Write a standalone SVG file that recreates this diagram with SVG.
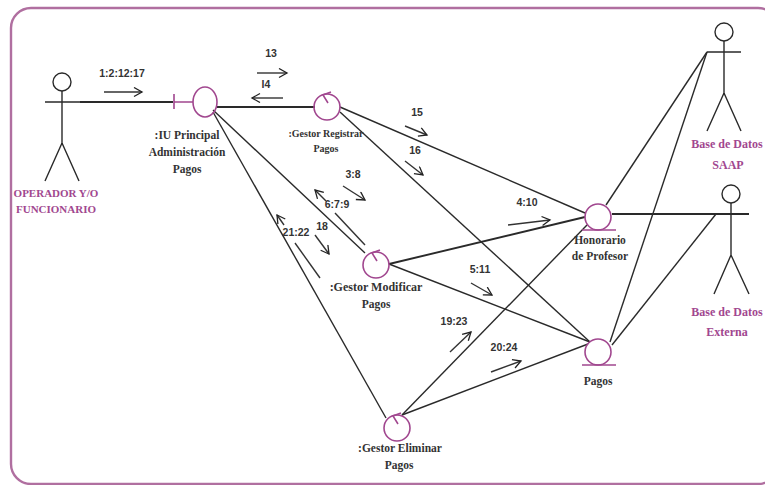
<svg xmlns="http://www.w3.org/2000/svg" width="765" height="485" viewBox="0 0 765 485">
<defs>
<marker id="open" markerWidth="12" markerHeight="12" refX="9" refY="5" orient="auto" markerUnits="userSpaceOnUse"><path d="M1 0.5 L9 5 L1 9.5" fill="none" stroke="#222" stroke-width="1.3"/></marker>
</defs>
<style>
.frame{fill:none;stroke:#b06fa0;stroke-width:2.4}
.c{fill:none;stroke:#2a2a2a;stroke-width:1.4}
.t{stroke-width:1.9}
.m{fill:none;stroke:#333;stroke-width:1.4;marker-end:url(#open)}
.b{fill:none;stroke:#333;stroke-width:1.4}
.actor{fill:none;stroke:#2a2a2a;stroke-width:1.4}
.p{fill:none;stroke:#a1478f;stroke-width:1.6}
text{font-family:"Liberation Serif","Times New Roman",serif;font-weight:bold;text-anchor:middle;fill:#333}
.l{font-size:11.5px}
.s{font-size:10px}
.n{font-size:10.5px;font-family:"Liberation Sans",Arial,sans-serif}
.a{font-size:11px;fill:#a1478f}
.d{font-size:12px;fill:#a1478f}
</style>
<rect class="frame" x="11" y="8" width="767" height="476" rx="20"/>
<g id="connectors">
<path class="c t" d="M80 102H173"/>
<path class="c t" d="M217 107H315"/>
<path class="c" d="M213 110L365 253"/>
<path class="c" d="M213 112L386 418"/>
<path class="c" d="M340 107L585 213"/>
<path class="c" d="M340 112L590 342"/>
<path class="c t" d="M389 264L585 217"/>
<path class="c" d="M389 264L590 342"/>
<path class="c" d="M402 415L587 225"/>
<path class="c" d="M402 415L588 344"/>
<path class="c" d="M606 205L707 52"/>
<path class="c" d="M610 342L707 52"/>
<path class="c" d="M612 345L716 214"/>
<path class="c t" d="M612 214H749"/>
<path class="m" d="M104 92H142"/>
<path class="m" d="M257 73H287"/>
<path class="m" d="M283 98H252"/>
<path class="m" d="M405 126L427 135"/>
<path class="m" d="M405 161L423 175"/>
<path class="m" d="M343 186L365 200"/>
<path class="m" d="M326 201L315 190"/>
<path class="b" d="M335 213L365 245"/>
<path class="m" d="M284 225L277 215"/>
<path class="b" d="M295 243L320 278"/>
<path class="m" d="M315 235L329 254"/>
<path class="m" d="M508 225L550 220"/>
<path class="m" d="M471 283L492 295"/>
<path class="m" d="M450 352L471 332"/>
<path class="m" d="M491 372L521 361"/>
</g>
<g id="labels">
<text class="n" x="122" y="77">1:2:12:17</text>
<text class="n" x="271" y="57">13</text>
<text class="n" x="266" y="88">I4</text>
<text class="n" x="417" y="116">15</text>
<text class="n" x="415" y="154">16</text>
<text class="n" x="353" y="178">3:8</text>
<text class="n" x="337" y="208">6:7:9</text>
<text class="n" x="296" y="236">21:22</text>
<text class="n" x="322" y="230">18</text>
<text class="n" x="527" y="206">4:10</text>
<text class="n" x="480" y="273">5:11</text>
<text class="n" x="454" y="325">19:23</text>
<text class="n" x="504" y="351">20:24</text>
</g>
<g id="actor-operador">
<circle class="actor" cx="62" cy="82" r="9"/>
<path class="actor" d="M62 91V143M45 102H80M62 143L45 181M62 143L79 181"/>
<text class="a" x="56" y="197">OPERADOR Y/O</text>
<text class="a" x="56" y="213">FUNCIONARIO</text>
</g>
<g id="ui-principal">
<path class="p" d="M174 94V109M174 102H193"/>
<ellipse class="p" cx="205" cy="102" rx="12" ry="15"/>
<text class="l" x="187" y="139">:IU Principal</text>
<text class="l" x="187" y="156">Administración</text>
<text class="l" x="187" y="173">Pagos</text>
</g>
<g id="gestor-registrar">
<circle class="p" cx="327" cy="107" r="13"/>
<path class="p" d="M331 92L323 95L328 103"/>
<text class="s" x="326" y="137">:Gestor Registrar</text>
<text class="s" x="326" y="152">Pagos</text>
</g>
<g id="gestor-modificar">
<circle class="p" cx="376" cy="265" r="13"/>
<path class="p" d="M380 250L372 253L377 261"/>
<text class="l" x="376" y="291" style="font-size:12px">:Gestor Modificar</text>
<text class="l" x="376" y="308">Pagos</text>
</g>
<g id="gestor-eliminar">
<circle class="p" cx="397" cy="428" r="13"/>
<path class="p" d="M401 413L393 416L398 424"/>
<text class="l" x="400" y="452">:Gestor Eliminar</text>
<text class="l" x="399" y="469">Pagos</text>
</g>
<g id="honorario">
<circle class="p" cx="598" cy="217" r="13"/>
<path class="p" d="M582 230H616"/>
<text class="l" x="600" y="244">Honorario</text>
<text class="l" x="600" y="260">de Profesor</text>
</g>
<g id="pagos">
<circle class="p" cx="598" cy="352" r="13"/>
<path class="p" d="M582 365H616"/>
<text class="l" x="598" y="385">Pagos</text>
</g>
<g id="actor-saap">
<circle class="actor" cx="724" cy="32" r="9"/>
<path class="actor" d="M724 41V93M707 52H741M724 93L707 131M724 93L741 131"/>
<text class="d" x="727" y="148">Base de Datos</text>
<text class="d" x="728" y="169">SAAP</text>
</g>
<g id="actor-externa">
<circle class="actor" cx="731" cy="194" r="9"/>
<path class="actor" d="M731 203V255M716 214H749M731 255L714 294M731 255L749 294"/>
<text class="d" x="727" y="316">Base de Datos</text>
<text class="d" x="727" y="336">Externa</text>
</g>
</svg>
